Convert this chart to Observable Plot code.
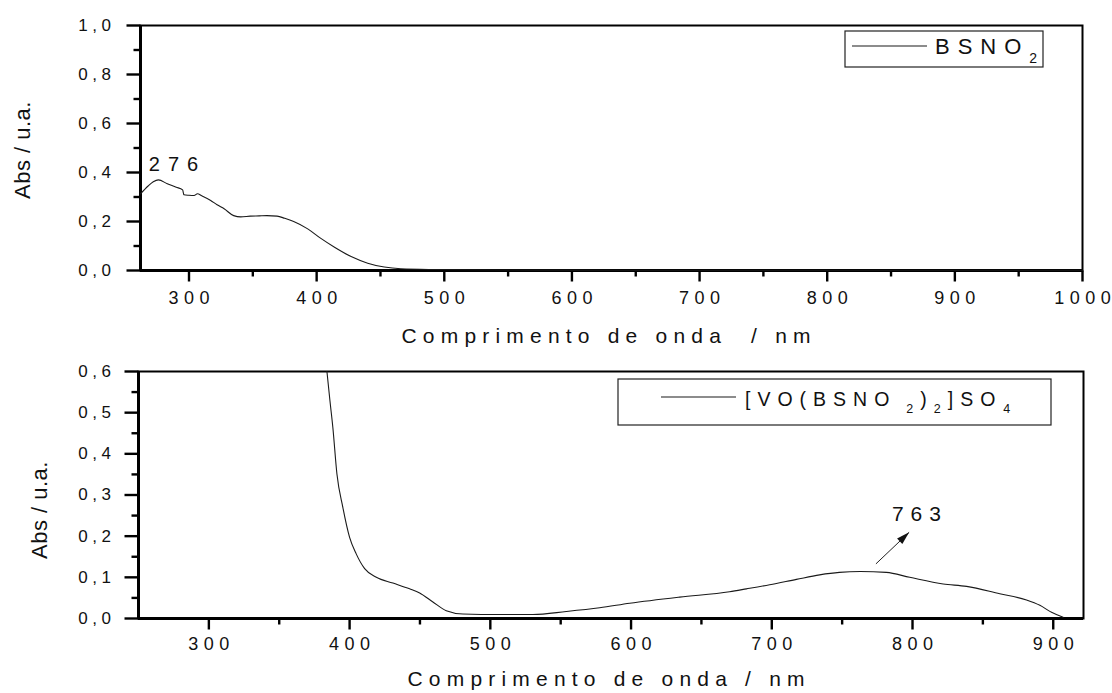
<!DOCTYPE html>
<html><head><meta charset="utf-8">
<script src="https://cdn.jsdelivr.net/npm/d3@7"></script>
<script src="https://cdn.jsdelivr.net/npm/@observablehq/plot@0.6"></script>
<style>
body{margin:0;background:#fff;}
#chart{position:relative;width:1112px;height:693px;background:#fff;font-family:Arial,"Liberation Sans",sans-serif;}
#chart svg{position:absolute;left:0;overflow:visible;background:transparent;}
</style></head><body><div id="chart"></div>
<script>
// ---- data: BSNO2 spectrum (top) ----
const bsnoNm  = [262,268,272,276,283,290,295,296,300,304,306.6,310,317,322,327.5,335,340.5,348,355,361,369,375,382,393,403,414,427,440,453,466,492,544,600,700,800,900,1000];
const bsnoAbs = [0.313,0.345,0.362,0.370,0.354,0.340,0.329,0.309,0.307,0.306,0.313,0.305,0.286,0.268,0.252,0.224,0.219,0.222,0.223,0.224,0.222,0.213,0.200,0.170,0.132,0.095,0.057,0.030,0.014,0.007,0.004,0.002,0.0015,0.001,0.001,0.001,0.001];
// ---- data: [VO(BSNO2)2]SO4 spectrum (bottom) ----
const voNm  = [383.9,386,388.1,391,395.2,400,404.7,410.7,419,430.8,442.6,449.8,459.2,468.7,480.5,506.6,530.3,554,577.7,599,634.5,670,682,698.5,717.5,734,748,763,781.4,798,821.8,838.4,862,881,890.5,898.8,907];
const voAbs = [0.600,0.530,0.464,0.351,0.270,0.197,0.157,0.121,0.100,0.086,0.072,0.062,0.040,0.019,0.011,0.0097,0.0097,0.017,0.026,0.037,0.052,0.065,0.072,0.082,0.095,0.106,0.112,0.114,0.112,0.100,0.084,0.078,0.060,0.045,0.032,0.015,0.003];

// ---- ticks ----
const topXTicks = [300,400,500,600,700,800,900,1000];
const topXMinor = [350,450,550,650,750,850,950];
const topYTicks = [0,0.2,0.4,0.6,0.8,1.0];
const topYMinor = [0.1,0.3,0.5,0.7,0.9];
const botXTicks = [300,400,500,600,700,800,900];
const botXMinor = [350,450,550,650,750,850];
const botYTicks = [0,0.1,0.2,0.3,0.4,0.5,0.6];
const botYMinor = [0.05,0.15,0.25,0.35,0.45,0.55];

// ---- texts / annotations ----
const xTitles = ["Comprimento de onda  / nm", "Comprimento de onda / nm"];
const yTitle = "Abs / u.a.";
const topPeak = [{label:"276", nm:287.9, abs:0.431}];
const botPeak = [{label:"763", nm:802.8, abs:0.252}];
const botArrow = [{x1:774, y1:0.1327, x2:797.6, y2:0.2093}];
const legendTop = [["BSNO",false],["2",true]];
const legendBot = [["[VO",false],["(BSNO",false],["2",true],[")",false],["2",true],["]SO",false],["4",true]];

const FF = "Arial, 'Liberation Sans', sans-serif";
const fmt = d => d.toFixed(1).replace(".", ",");
const root = document.getElementById("chart");

function series(xs, ys){ return xs.map((x,i)=>({x, y: ys[i]})); }

// custom symbols: arrowhead; outward tick bars whose length comes from the r channel
const headSymbol = {draw(ctx){ ctx.moveTo(0,0); ctx.lineTo(-3.8,13); ctx.lineTo(3.8,13); ctx.closePath(); }};
const vTick = {draw(ctx, size){ const len = Math.sqrt(size/Math.PI); ctx.rect(-1.2, 0, 2.4, len); }};
const hTick = {draw(ctx, size){ const len = Math.sqrt(size/Math.PI); ctx.rect(-len, -1.2, len, 2.4); }};

function panel(opts){
  const x0 = () => opts.xd[0], y0 = () => opts.yd[0];
  const xTickData = [...opts.xt.map(v=>({v, len:11})), ...opts.xm.map(v=>({v, len:6}))];
  const yTickData = [...opts.yt.map(v=>({v, len:14})), ...opts.ym.map(v=>({v, len:7}))];
  const p = Plot.plot({
    width:1112, height:opts.height,
    marginLeft:opts.ml, marginRight:opts.mr, marginTop:opts.mt, marginBottom:opts.mb,
    style:{fontFamily:FF, fontSize:"16px", color:"#111", background:"transparent"},
    x:{domain:opts.xd, axis:null}, y:{domain:opts.yd, axis:null}, r:{type:"identity"},
    marks:[
      // tick labels (text marks 0 and 1)
      Plot.text(opts.xt.slice(), {x:d=>d, y:y0, text:d=>String(d), dy:opts.xdy, fontSize:18, fill:"#111"}),
      Plot.text(opts.yt.slice(), {x:x0, y:d=>d, text:fmt, dx:opts.ydx, textAnchor:"end", fontSize:17, fill:"#111"}),
      Plot.frame({stroke:"#000", strokeWidth:2}),
      Plot.ruleX([opts.xd[0]], {stroke:"#000", strokeWidth:3}),
      Plot.ruleY([opts.yd[0]], {stroke:"#000", strokeWidth:3}),
      Plot.dot(xTickData, {x:"v", y:y0, r:"len", symbol:vTick, fill:"#000", stroke:"none"}),
      Plot.dot(yTickData, {y:"v", x:x0, r:"len", symbol:hTick, fill:"#000", stroke:"none"}),
      Plot.line(opts.data, {x:"x", y:"y", stroke:"#1a1a1a", strokeWidth:1.1, curve:"monotone-x"}),
      ...opts.extra
    ]
  });
  p.style.top = opts.top + "px";
  root.appendChild(p);
  const s = d3.select(p);
  const tg = s.selectAll('g[aria-label="text"]').nodes();
  d3.select(tg[0]).selectAll("text").attr("letter-spacing", 5.5).attr("dx", 2.75);
  d3.select(tg[1]).selectAll("text").attr("letter-spacing", 4.5);
  d3.select(tg[2]).selectAll("text").attr("letter-spacing", opts.annLs).attr("dx", opts.annLs/2);

  // x title
  s.append("text").attr("x", 606 + 3.1).attr("y", opts.xTitleY).attr("text-anchor","middle")
    .attr("font-size", 21).attr("letter-spacing", 6.2).attr("fill","#111")
    .text(opts.xTitle);
  // y title
  s.append("text").attr("transform", `translate(${opts.yTitleX},${opts.yTitleY}) rotate(-90)`)
    .attr("text-anchor","middle").attr("font-size", 22).attr("letter-spacing", 0.5).attr("fill","#111").text(yTitle);
  // legend
  const g = s.append("g");
  const L = opts.legend;
  g.append("rect").attr("x",L.x).attr("y",L.y).attr("width",L.w).attr("height",L.h)
    .attr("fill","#fff").attr("stroke","#222").attr("stroke-width",1.2);
  g.append("line").attr("x1",L.lx1).attr("x2",L.lx2).attr("y1",L.ly).attr("y2",L.ly).attr("stroke","#1a1a1a").attr("stroke-width",1.1);
  const t = g.append("text").attr("x",L.tx).attr("y",L.ty).attr("text-anchor","start")
    .attr("font-size",L.fs).attr("letter-spacing",L.ls).attr("fill","#111");
  let sub = false;
  L.parts.forEach(([txt,isSub],i)=>{
    const ts = t.append("tspan").text(txt);
    if (isSub && !sub){ ts.attr("dy", L.subDy); }
    if (!isSub && sub){ ts.attr("dy", -L.subDy); }
    if (isSub) ts.attr("font-size", L.subFs);
    if (L.dx && L.dx[i]) ts.attr("dx", L.dx[i]);
    sub = isSub;
  });
  return p;
}

panel({
  top:0, height:345, ml:140, mr:30, mt:25, mb:75,
  xd:[262,1000], yd:[0,1], xt:topXTicks, xm:topXMinor, yt:topYTicks, ym:topYMinor,
  xdy:28, ydx:-25, data:series(bsnoNm,bsnoAbs), annLs:8,
  xTitle:xTitles[0], xTitleY:343, yTitleX:30, yTitleY:150,
  extra:[
    Plot.text(topPeak, {x:"nm", y:"abs", text:"label", fontSize:20, fill:"#111"})
  ],
  legend:{x:845,y:31,w:198,h:36,lx1:852,lx2:927,ly:46,tx:935,ty:54,fs:22,ls:8,subFs:14,subDy:9,parts:legendTop}
});

panel({
  top:345, height:348, ml:138, mr:29, mt:26, mb:75,
  xd:[250,921.5], yd:[0,0.6], xt:botXTicks, xm:botXMinor, yt:botYTicks, ym:botYMinor,
  xdy:26, ydx:-23, data:series(voNm,voAbs), annLs:7,
  xTitle:xTitles[1], xTitleY:341, yTitleX:47, yTitleY:165,
  extra:[
    Plot.link(botArrow, {x1:"x1", y1:"y1", x2:"x2", y2:"y2", stroke:"#222", strokeWidth:1}),
    Plot.dot(botArrow, {x:"x2", y:"y2", symbol:headSymbol, rotate:46.5, fill:"#111", stroke:"none", r:5}),
    Plot.text(botPeak, {x:"nm", y:"abs", text:"label", fontSize:21, fill:"#111"})
  ],
  legend:{x:618,y:34,w:433,h:46,lx1:661,lx2:736,ly:52,tx:745,ty:61,fs:19.5,ls:7,subFs:12.5,subDy:7,
          dx:[0,0,10,0,0,0,1], parts:legendBot}
});
</script>
</body></html>
